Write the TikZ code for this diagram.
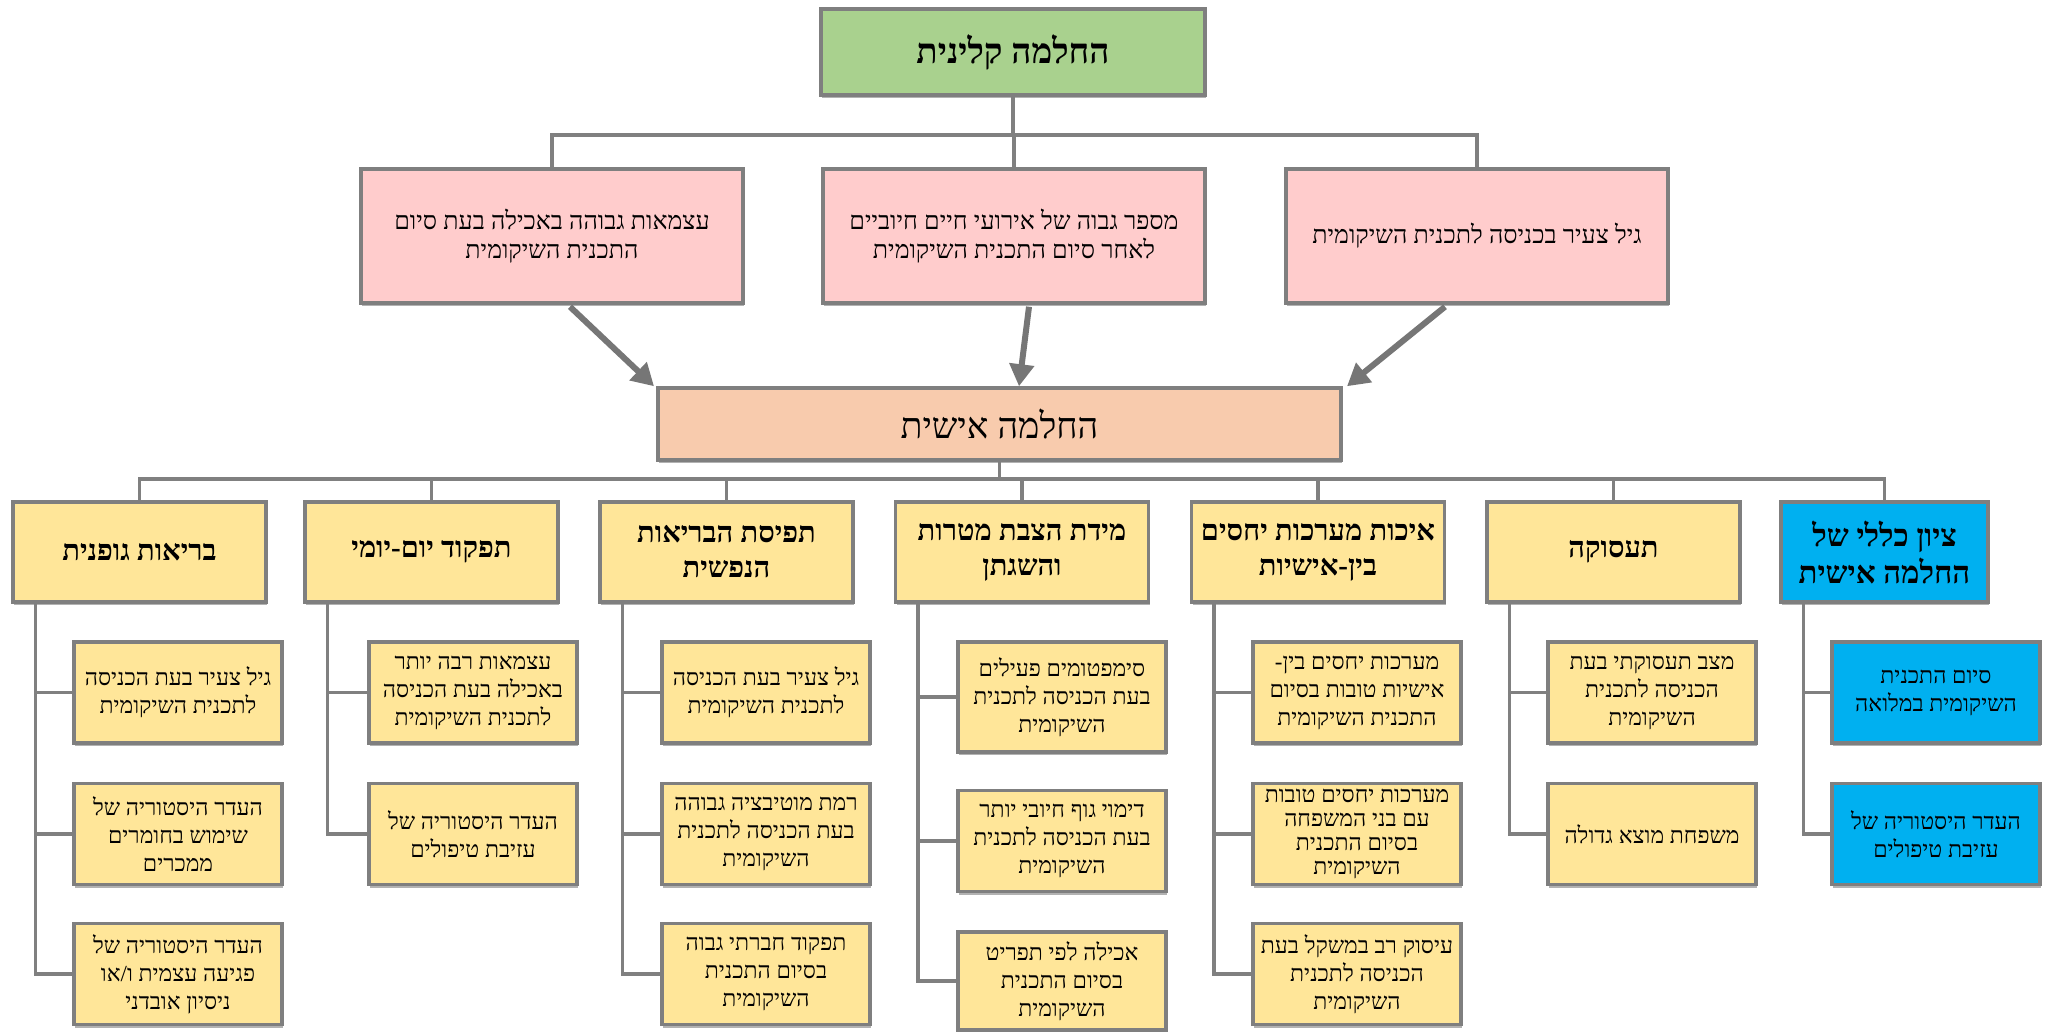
\documentclass[tikz,border=0pt]{standalone}
\usepackage{fontspec}
\setmainfont[Script=Hebrew]{Liberation Serif}
\TeXXeTstate=1
\usetikzlibrary{arrows.meta,shadows,calc}
\newcommand\heb[1]{\beginR #1\endR}
\definecolor{bord}{HTML}{7F7F7F}
\definecolor{cgreen}{HTML}{A9D18E}
\definecolor{cpink}{HTML}{FFCCCC}
\definecolor{corange}{HTML}{F8CBAD}
\definecolor{cyellow}{HTML}{FFE699}
\definecolor{cblue}{HTML}{00B0F0}
\definecolor{conncol}{HTML}{808080}
\definecolor{arrcol}{HTML}{767676}
\tikzset{
  box/.style={draw=bord, line width=3.5pt, align=center, inner sep=1pt,
    drop shadow={shadow xshift=1pt, shadow yshift=-3pt, opacity=0.3, fill=black}},
  greenbox/.style={box, fill=cgreen, minimum width=384pt, minimum height=86pt,
    font=\bfseries\fontsize{35}{40}\selectfont},
  pinkbox/.style={box, fill=cpink, minimum width=382pt, minimum height=134pt,
    font=\fontsize{25}{29}\selectfont},
  orangebox/.style={box, fill=corange, minimum width=683pt, minimum height=72pt,
    font=\fontsize{36}{40}\selectfont},
  catbox/.style={box, fill=cyellow, minimum width=253pt, minimum height=100pt,
    font=\bfseries\fontsize{29}{35}\selectfont},
  bluecat/.style={box, fill=cblue, minimum width=207pt, minimum height=100pt,
    font=\bfseries\fontsize{31}{37}\selectfont},
  kid/.style={box, fill=cyellow, minimum width=208pt, minimum height=101pt,
    inner sep=0pt, font=\fontsize{23}{28}\selectfont},
  bluekid/.style={kid, fill=cblue},
  conn/.style={draw=conncol, line width=3.5pt},
  bigarrow/.style={draw=arrcol, line width=6pt, -{Triangle[length=22pt,width=24pt]}}
}
\begin{document}
\begin{tikzpicture}[x=1pt,y=-1pt]
\fill[white] (0,0) rectangle (2051,1032);
\useasboundingbox (0,0) rectangle (2051,1032);

% top level
\node[greenbox] (g) at (1013,52) {\heb{החלמה קלינית}};
\node[pinkbox] (p1) at (552,236) {\heb{עצמאות גבוהה באכילה בעת סיום}\\\heb{התכנית השיקומית}};
\node[pinkbox] (p2) at (1014,236) {\heb{מספר גבוה של אירועי חיים חיוביים}\\\heb{לאחר סיום התכנית השיקומית}};
\node[pinkbox] (p3) at (1477,236) {\heb{גיל צעיר בכניסה לתכנית השיקומית}};
\node[orangebox] (o) at (999.5,424) {\heb{החלמה אישית}};

\coordinate (gbar) at (1013,135);
\draw[conn] (g.south) -- (gbar);
\draw[conn] (p1.north) |- (gbar) -| (p3.north);
\draw[conn] (p2.north) -- (p2.north |- gbar);

\draw[bigarrow] ([xshift=18pt,yshift=-2pt]p1.south) -- ([xshift=-345.5pt]o.north);
\draw[bigarrow] ([xshift=15pt,yshift=-2pt]p2.south) -- ([xshift=19.5pt]o.north);
\draw[bigarrow] ([xshift=-32pt,yshift=-2pt]p3.south) -- ([xshift=347.5pt]o.north);

% categories
\node[catbox] (c1) at (139.5,552) {\heb{בריאות גופנית}};
\node[catbox] (c2) at (431.5,552) {\heb{תפקוד יום-יומי}};
\node[catbox] (c3) at (726.5,552) {\heb{תפיסת הבריאות}\\\heb{הנפשית}};
\node[catbox] (c4) at (1022,552) {\heb{מידת הצבת מטרות}\\\heb{והשגתן}};
\node[catbox] (c5) at (1318,552) {\heb{איכות מערכות יחסים}\\\heb{בין-אישיות}};
\node[catbox] (c6) at (1613.5,552) {\heb{תעסוקה}};
\node[bluecat] (c7) at (1884.5,552) {\heb{ציון כללי של}\\\heb{החלמה אישית}};

\coordinate (obar) at (999.5,479);
\draw[conn] (o.south) -- (obar);
\draw[conn] (c1.north) |- (obar) -| (c7.north);
\foreach \c in {c2,c3,c4,c5,c6} \draw[conn] (\c.north) -- (\c.north |- obar);

% column 1
\node[kid] (k1a) at (178,692.5) {\heb{גיל צעיר בעת הכניסה}\\\heb{לתכנית השיקומית}};
\node[kid] (k1b) at (178,834) {\heb{העדר היסטוריה של}\\\heb{שימוש בחומרים}\\\heb{ממכרים}};
\node[kid] (k1c) at (178,974) {\heb{העדר היסטוריה של}\\\heb{פגיעה עצמית ו/או}\\\heb{ניסיון אובדני}};
% column 2
\node[kid] (k2a) at (473,692.5) {\heb{עצמאות רבה יותר}\\\heb{באכילה בעת הכניסה}\\\heb{לתכנית השיקומית}};
\node[kid] (k2b) at (473,834) {\heb{העדר היסטוריה של}\\\heb{עזיבת טיפולים}};
% column 3
\node[kid] (k3a) at (766,692.5) {\heb{גיל צעיר בעת הכניסה}\\\heb{לתכנית השיקומית}};
\node[kid] (k3b) at (766,834) {\heb{רמת מוטיבציה גבוהה}\\\heb{בעת הכניסה לתכנית}\\\heb{השיקומית}};
\node[kid] (k3c) at (766,974) {\heb{תפקוד חברתי גבוה}\\\heb{בסיום התכנית}\\\heb{השיקומית}};
% column 4
\node[kid, minimum height=110pt] (k4a) at (1062,697) {\heb{סימפטומים פעילים}\\\heb{בעת הכניסה לתכנית}\\\heb{השיקומית}};
\node[kid] (k4b) at (1062,841) {\heb{דימוי גוף חיובי יותר}\\\heb{בעת הכניסה לתכנית}\\\heb{השיקומית}};
\node[kid, minimum height=98pt] (k4c) at (1062,981) {\heb{אכילה לפי תפריט}\\\heb{בסיום התכנית}\\\heb{השיקומית}};
% column 5
\node[kid] (k5a) at (1357,692.5) {\heb{מערכות יחסים בין-}\\\heb{אישיות טובות בסיום}\\\heb{התכנית השיקומית}};
\node[kid, font=\fontsize{23}{24}\selectfont] (k5b) at (1357,834) {\heb{מערכות יחסים טובות}\\\heb{עם בני המשפחה}\\\heb{בסיום התכנית}\\\heb{השיקומית}};
\node[kid] (k5c) at (1357,974) {\heb{עיסוק רב במשקל בעת}\\\heb{הכניסה לתכנית}\\\heb{השיקומית}};
% column 6
\node[kid] (k6a) at (1652,692.5) {\heb{מצב תעסוקתי בעת}\\\heb{הכניסה לתכנית}\\\heb{השיקומית}};
\node[kid] (k6b) at (1652,834) {\heb{משפחת מוצא גדולה}};
% column 7
\node[bluekid] (k7a) at (1936,692.5) {\heb{סיום התכנית}\\\heb{השיקומית במלואה}};
\node[bluekid] (k7b) at (1936,834) {\heb{העדר היסטוריה של}\\\heb{עזיבת טיפולים}};

% trunks
\foreach \c/\kids in {c1/{k1a,k1b,k1c}, c2/{k2a,k2b}, c3/{k3a,k3b,k3c}, c4/{k4a,k4b,k4c}, c5/{k5a,k5b,k5c}, c6/{k6a,k6b}, c7/{k7a,k7b}}{
  \foreach \k in \kids \draw[conn] ([xshift=24pt]\c.south west) |- (\k.west);
}
\end{tikzpicture}
\end{document}
